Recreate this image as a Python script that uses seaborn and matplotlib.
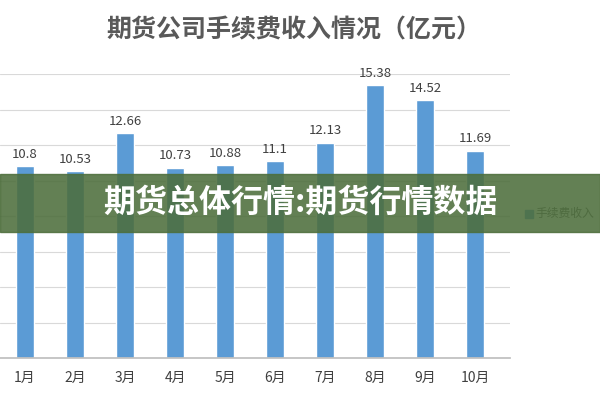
import matplotlib
matplotlib.use("Agg")
import matplotlib.pyplot as plt
import seaborn as sns
import pandas as pd
from matplotlib.patches import Rectangle

months = ["1月","2月","3月","4月","5月","6月","7月","8月","9月","10月"]
values = [10.8, 10.53, 12.66, 10.73, 10.88, 11.1, 12.13, 15.38, 14.52, 11.69]

sns.set_theme(style="white")
plt.rcParams['font.family'] = ['Noto Sans CJK SC', 'DejaVu Sans']

fig = plt.figure(figsize=(6, 4), dpi=100)
ax = fig.add_axes([0.0, 0.105, 0.85, 0.71])
df = pd.DataFrame({"m": months, "v": values})
sns.barplot(data=df, x="m", y="v", color="#5B9BD5", width=0.35, ax=ax, saturation=1)
ax.set_xlim(-0.5, 9.7)
ax.set_ylim(0, 16)
ax.set_yticks(range(0, 17, 2))
ax.set_yticklabels([])
ax.grid(axis="y", color="#d9d9d9", lw=0.8)
ax.set_axisbelow(True)
for s in ["top", "right", "left"]:
    ax.spines[s].set_visible(False)
ax.spines["bottom"].set_color("#bfbfbf")
ax.tick_params(left=False, bottom=False, labelsize=10, colors="#404040")
ax.set_xlabel(""); ax.set_ylabel("")
for i, v in enumerate(values):
    ax.text(i, v + 0.3, f"{v:g}", ha="center", va="bottom", fontsize=9.5, color="#404040")

fig.text(0.49, 0.925, "期货公司手续费收入情况（亿元）", ha="center", va="center",
         fontsize=18, color="#595959", fontweight="bold")
# legend
fig.patches.append(Rectangle((0.875, 0.455), 0.013, 0.02, transform=fig.transFigure, color="#5B9BD5"))
fig.text(0.893, 0.465, "手续费收入", fontsize=8.5, color="#595959", va="center")
# banner
fig.patches.append(Rectangle((0, 0.42), 1, 0.145, transform=fig.transFigure,
                             color="#4d6e3c", alpha=0.88, zorder=5))
fig.text(0.5, 0.493, "期货总体行情:期货行情数据", ha="center", va="center",
         fontsize=23, color="white", fontweight="bold", zorder=6)
fig.savefig("out.png", dpi=100)
